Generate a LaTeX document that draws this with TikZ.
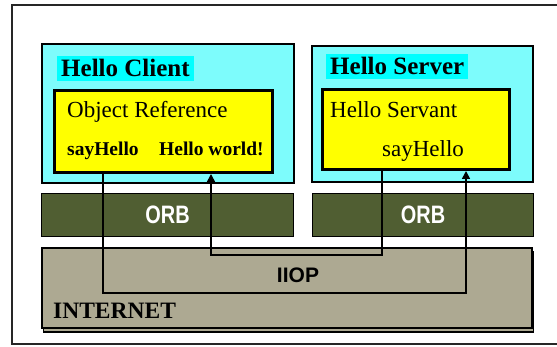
\documentclass[tikz,border=0pt]{standalone}
\usepackage{fontspec}
\setmainfont{Liberation Serif}
\newfontfamily\orbfont{Liberation Sans}
\usetikzlibrary{arrows.meta, positioning, shadows}
\definecolor{hostcyan}{RGB}{125,252,252}
\definecolor{labelcyan}{RGB}{0,255,255}
\definecolor{objyellow}{RGB}{255,255,0}
\definecolor{orbgreen}{RGB}{80,94,50}
\definecolor{nettan}{RGB}{173,169,146}

\begin{document}
\begin{tikzpicture}[
    x=1pt, y=-1pt,
    hostbox/.style={rectangle, draw=black, line width=2pt, fill=hostcyan, anchor=north west, inner sep=0pt},
    objbox/.style={rectangle, draw=black, line width=3pt, fill=objyellow, anchor=north west, inner sep=0pt},
    orbbar/.style={rectangle, draw=black, line width=1.2pt, fill=orbgreen, anchor=north west, inner sep=0pt, minimum height=43pt},
    hosttitle/.style={anchor=base west, fill=labelcyan, inner xsep=4pt, inner ysep=4pt, font=\fontsize{25}{27}\selectfont\bfseries},
    objtext/.style={anchor=base west, inner sep=0pt, font=\fontsize{23}{26}\selectfont},
    calltext/.style={anchor=base west, inner sep=0pt, font=\fontsize{19.5}{22}\selectfont\bfseries},
    layertext/.style={inner sep=0pt, font=\orbfont\fontsize{21}{24}\selectfont\bfseries},
    wire/.style={draw=black, line width=1.6pt},
    wiretip/.style={-{Triangle[length=8pt, width=8pt]}}
]
    \useasboundingbox (0,0) rectangle (557,347);
    \clip (0,0) rectangle (557,347);

    % Outer frame
    \draw [line width=2.5pt, draw=black!85] (570,5) -- (12,5) -- (12,344) -- (570,344);

    % Hosts
    \node (cliBox) [hostbox, minimum width=252pt, minimum height=139pt] at (41,43) {};
    \node (srvBox) [hostbox, minimum width=221pt, minimum height=136pt] at (311,45) {};
    \node (cliTitle) [hosttitle] at (57,77) {Hello Client};
    \node (srvTitle) [hosttitle] at (326,75) {Hello Server};

    % Objects
    \node (cliRef) [objbox, minimum width=218pt, minimum height=82pt] at (53,89) {};
    \node (srvServant) [objbox, minimum width=187pt, minimum height=80pt] at (321,88) {};
    \node (cliRefText) [objtext] at (67,118) {Object Reference};
    \node (cliSay) [calltext] at (67,156) {sayHello};
    \node (cliWorld) [calltext] at (159,156) {Hello world!};
    \node (srvServantText) [objtext] at (330,118) {Hello Servant};
    \node (srvSay) [objtext] at (382,157) {sayHello};

    % ORB layers
    \node (cliOrb) [orbbar, minimum width=252pt] at (41,193) {};
    \node (srvOrb) [orbbar, minimum width=221pt] at (312,193) {};
    \node [layertext, text=white] at (cliOrb.center) {\scalebox{0.95}[1.2]{ORB}};
    \node [layertext, text=white] at (srvOrb.center) {\scalebox{0.95}[1.2]{ORB}};

    % Internet
    \node (net) [rectangle, draw=black, line width=1.8pt, fill=nettan, anchor=north west, inner sep=0pt,
        minimum width=490pt, minimum height=80pt,
        copy shadow={shadow xshift=1.5pt, shadow yshift=-4pt}] at (41,247) {};
    \node (netLabel) [calltext, font=\fontsize{23.5}{26}\selectfont\bfseries] at (53,319) {INTERNET};

    % Request and reply paths
    \coordinate (reqTurn) at (466,293);
    \coordinate (repTurn) at (211,255);
    \draw [wire, wiretip] (cliRef.south -| cliSay.south) |- (reqTurn) -- (srvServant.south -| reqTurn);
    \draw [wire, wiretip] (srvServant.south -| srvSay.west) |- (repTurn) -- (cliRef.south -| repTurn);

    \node (iiop) [layertext] at (298,275) {IIOP};

\end{tikzpicture}
\end{document}
